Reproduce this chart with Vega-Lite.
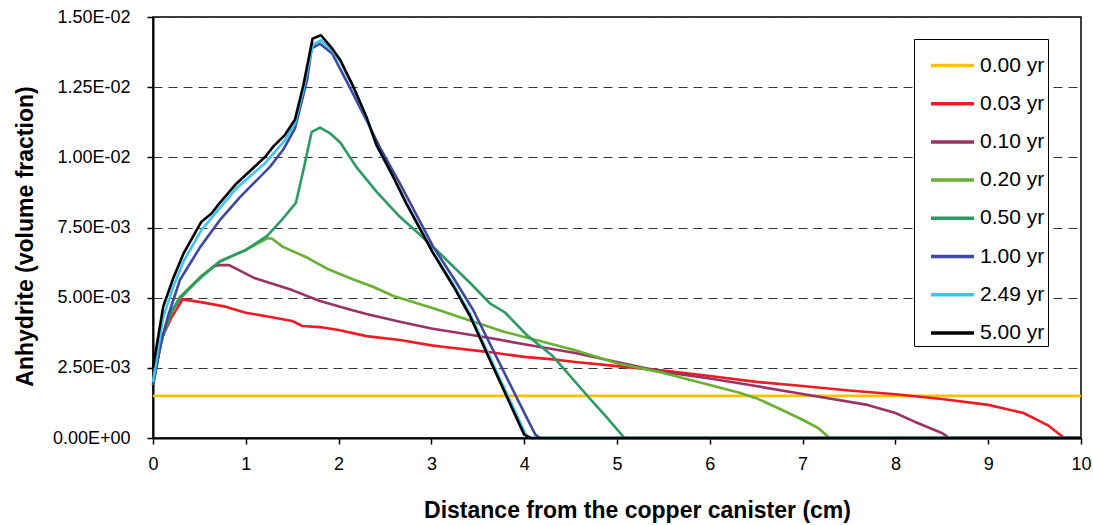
{
  "$schema": "https://vega.github.io/schema/vega-lite/v6.json",
  "width": 928,
  "height": 421,
  "autosize": {"type": "none"},
  "padding": {"left": 153, "top": 17, "right": 12, "bottom": 87},
  "background": "white",
  "config": {
    "view": {"stroke": "#000", "strokeWidth": 1.5},
    "axis": {
      "labelFont": "Liberation Sans",
      "labelFontSize": 18,
      "labelColor": "#000",
      "titleFont": "Liberation Sans",
      "titleFontSize": 23,
      "titleFontWeight": "bold",
      "titleColor": "#000",
      "domainColor": "#000",
      "domainWidth": 2,
      "tickColor": "#000",
      "tickWidth": 1.5,
      "tickSize": 6
    },
    "legend": {
      "labelFont": "Liberation Sans",
      "labelFontSize": 21,
      "labelColor": "#000"
    }
  },
  "data": {
    "values": [
      {"t": "0.00 yr", "x": 0, "y": 0.0015},
      {"t": "0.00 yr", "x": 10, "y": 0.0015},

      {"t": "0.03 yr", "x": 0, "y": 0.0019},
      {"t": "0.03 yr", "x": 0.05, "y": 0.0028},
      {"t": "0.03 yr", "x": 0.1, "y": 0.0036},
      {"t": "0.03 yr", "x": 0.2, "y": 0.0043},
      {"t": "0.03 yr", "x": 0.32, "y": 0.00494},
      {"t": "0.03 yr", "x": 0.5, "y": 0.00485},
      {"t": "0.03 yr", "x": 0.78, "y": 0.00468},
      {"t": "0.03 yr", "x": 1.0, "y": 0.00446},
      {"t": "0.03 yr", "x": 1.22, "y": 0.00434},
      {"t": "0.03 yr", "x": 1.5, "y": 0.00417},
      {"t": "0.03 yr", "x": 1.61, "y": 0.00399},
      {"t": "0.03 yr", "x": 1.83, "y": 0.00394},
      {"t": "0.03 yr", "x": 2.0, "y": 0.00385},
      {"t": "0.03 yr", "x": 2.3, "y": 0.00363},
      {"t": "0.03 yr", "x": 2.66, "y": 0.00349},
      {"t": "0.03 yr", "x": 3.0, "y": 0.0033},
      {"t": "0.03 yr", "x": 3.12, "y": 0.00325},
      {"t": "0.03 yr", "x": 3.6, "y": 0.00307},
      {"t": "0.03 yr", "x": 4.0, "y": 0.00289},
      {"t": "0.03 yr", "x": 4.31, "y": 0.0028},
      {"t": "0.03 yr", "x": 4.55, "y": 0.00271},
      {"t": "0.03 yr", "x": 5.0, "y": 0.00256},
      {"t": "0.03 yr", "x": 5.5, "y": 0.0024},
      {"t": "0.03 yr", "x": 6.0, "y": 0.00221},
      {"t": "0.03 yr", "x": 6.5, "y": 0.002},
      {"t": "0.03 yr", "x": 7.0, "y": 0.00185},
      {"t": "0.03 yr", "x": 7.5, "y": 0.00169},
      {"t": "0.03 yr", "x": 8.0, "y": 0.00156},
      {"t": "0.03 yr", "x": 8.5, "y": 0.00139},
      {"t": "0.03 yr", "x": 9.0, "y": 0.00118},
      {"t": "0.03 yr", "x": 9.38, "y": 0.00089},
      {"t": "0.03 yr", "x": 9.65, "y": 0.00044},
      {"t": "0.03 yr", "x": 9.82, "y": 0},
      {"t": "0.03 yr", "x": 10, "y": 0},

      {"t": "0.10 yr", "x": 0, "y": 0.0019},
      {"t": "0.10 yr", "x": 0.05, "y": 0.0028},
      {"t": "0.10 yr", "x": 0.1, "y": 0.0036},
      {"t": "0.10 yr", "x": 0.2, "y": 0.0045},
      {"t": "0.10 yr", "x": 0.3, "y": 0.005},
      {"t": "0.10 yr", "x": 0.5, "y": 0.0057},
      {"t": "0.10 yr", "x": 0.65, "y": 0.0061},
      {"t": "0.10 yr", "x": 0.71, "y": 0.00616},
      {"t": "0.10 yr", "x": 0.82, "y": 0.00616},
      {"t": "0.10 yr", "x": 1.1, "y": 0.00569},
      {"t": "0.10 yr", "x": 1.5, "y": 0.00527},
      {"t": "0.10 yr", "x": 1.79, "y": 0.00489},
      {"t": "0.10 yr", "x": 2.12, "y": 0.00458},
      {"t": "0.10 yr", "x": 2.3, "y": 0.00442},
      {"t": "0.10 yr", "x": 2.66, "y": 0.00414},
      {"t": "0.10 yr", "x": 3.0, "y": 0.0039},
      {"t": "0.10 yr", "x": 3.6, "y": 0.00358},
      {"t": "0.10 yr", "x": 4.0, "y": 0.00334},
      {"t": "0.10 yr", "x": 4.55, "y": 0.00303},
      {"t": "0.10 yr", "x": 5.0, "y": 0.00271},
      {"t": "0.10 yr", "x": 5.5, "y": 0.00235},
      {"t": "0.10 yr", "x": 6.0, "y": 0.00212},
      {"t": "0.10 yr", "x": 6.5, "y": 0.00185},
      {"t": "0.10 yr", "x": 7.0, "y": 0.00157},
      {"t": "0.10 yr", "x": 7.7, "y": 0.00118},
      {"t": "0.10 yr", "x": 8.0, "y": 0.00089},
      {"t": "0.10 yr", "x": 8.2, "y": 0.00059},
      {"t": "0.10 yr", "x": 8.5, "y": 0.00018},
      {"t": "0.10 yr", "x": 8.58, "y": 0},
      {"t": "0.10 yr", "x": 10, "y": 0},

      {"t": "0.20 yr", "x": 0, "y": 0.0019},
      {"t": "0.20 yr", "x": 0.05, "y": 0.0028},
      {"t": "0.20 yr", "x": 0.1, "y": 0.0036},
      {"t": "0.20 yr", "x": 0.2, "y": 0.0045},
      {"t": "0.20 yr", "x": 0.29, "y": 0.00503},
      {"t": "0.20 yr", "x": 0.51, "y": 0.00574},
      {"t": "0.20 yr", "x": 0.72, "y": 0.00628},
      {"t": "0.20 yr", "x": 1.0, "y": 0.0067},
      {"t": "0.20 yr", "x": 1.23, "y": 0.00711},
      {"t": "0.20 yr", "x": 1.28, "y": 0.00711},
      {"t": "0.20 yr", "x": 1.4, "y": 0.00681},
      {"t": "0.20 yr", "x": 1.66, "y": 0.00643},
      {"t": "0.20 yr", "x": 1.87, "y": 0.00604},
      {"t": "0.20 yr", "x": 2.16, "y": 0.00565},
      {"t": "0.20 yr", "x": 2.37, "y": 0.00539},
      {"t": "0.20 yr", "x": 2.59, "y": 0.00506},
      {"t": "0.20 yr", "x": 3.02, "y": 0.00462},
      {"t": "0.20 yr", "x": 3.35, "y": 0.00426},
      {"t": "0.20 yr", "x": 3.79, "y": 0.00378},
      {"t": "0.20 yr", "x": 4.17, "y": 0.00346},
      {"t": "0.20 yr", "x": 4.55, "y": 0.00313},
      {"t": "0.20 yr", "x": 5.0, "y": 0.00266},
      {"t": "0.20 yr", "x": 5.5, "y": 0.00232},
      {"t": "0.20 yr", "x": 6.0, "y": 0.00189},
      {"t": "0.20 yr", "x": 6.31, "y": 0.00162},
      {"t": "0.20 yr", "x": 6.5, "y": 0.00142},
      {"t": "0.20 yr", "x": 6.74, "y": 0.00106},
      {"t": "0.20 yr", "x": 7.0, "y": 0.00065},
      {"t": "0.20 yr", "x": 7.17, "y": 0.00035},
      {"t": "0.20 yr", "x": 7.29, "y": 0},
      {"t": "0.20 yr", "x": 10, "y": 0},

      {"t": "0.50 yr", "x": 0, "y": 0.0019},
      {"t": "0.50 yr", "x": 0.05, "y": 0.0028},
      {"t": "0.50 yr", "x": 0.1, "y": 0.0036},
      {"t": "0.50 yr", "x": 0.2, "y": 0.0045},
      {"t": "0.50 yr", "x": 0.29, "y": 0.005},
      {"t": "0.50 yr", "x": 0.51, "y": 0.0057},
      {"t": "0.50 yr", "x": 0.72, "y": 0.0063},
      {"t": "0.50 yr", "x": 1.0, "y": 0.0067},
      {"t": "0.50 yr", "x": 1.23, "y": 0.0072},
      {"t": "0.50 yr", "x": 1.4, "y": 0.00782},
      {"t": "0.50 yr", "x": 1.54, "y": 0.00838},
      {"t": "0.50 yr", "x": 1.62, "y": 0.00954},
      {"t": "0.50 yr", "x": 1.71, "y": 0.01091},
      {"t": "0.50 yr", "x": 1.8, "y": 0.01106},
      {"t": "0.50 yr", "x": 1.91, "y": 0.01085},
      {"t": "0.50 yr", "x": 2.02, "y": 0.01052},
      {"t": "0.50 yr", "x": 2.19, "y": 0.00966},
      {"t": "0.50 yr", "x": 2.41, "y": 0.00877},
      {"t": "0.50 yr", "x": 2.66, "y": 0.00788},
      {"t": "0.50 yr", "x": 2.88, "y": 0.00723},
      {"t": "0.50 yr", "x": 3.09, "y": 0.00658},
      {"t": "0.50 yr", "x": 3.31, "y": 0.00587},
      {"t": "0.50 yr", "x": 3.41, "y": 0.00555},
      {"t": "0.50 yr", "x": 3.63, "y": 0.0048},
      {"t": "0.50 yr", "x": 3.79, "y": 0.00448},
      {"t": "0.50 yr", "x": 4.03, "y": 0.00366},
      {"t": "0.50 yr", "x": 4.31, "y": 0.00291},
      {"t": "0.50 yr", "x": 4.69, "y": 0.00147},
      {"t": "0.50 yr", "x": 4.88, "y": 0.00077},
      {"t": "0.50 yr", "x": 5.08, "y": 0},
      {"t": "0.50 yr", "x": 10, "y": 0},

      {"t": "1.00 yr", "x": 0, "y": 0.0019},
      {"t": "1.00 yr", "x": 0.08, "y": 0.0033},
      {"t": "1.00 yr", "x": 0.16, "y": 0.00432},
      {"t": "1.00 yr", "x": 0.29, "y": 0.00563},
      {"t": "1.00 yr", "x": 0.51, "y": 0.00681},
      {"t": "1.00 yr", "x": 0.72, "y": 0.00776},
      {"t": "1.00 yr", "x": 0.94, "y": 0.00859},
      {"t": "1.00 yr", "x": 1.26, "y": 0.00966},
      {"t": "1.00 yr", "x": 1.4, "y": 0.01026},
      {"t": "1.00 yr", "x": 1.53, "y": 0.01103},
      {"t": "1.00 yr", "x": 1.66, "y": 0.01275},
      {"t": "1.00 yr", "x": 1.71, "y": 0.01388},
      {"t": "1.00 yr", "x": 1.8, "y": 0.01405},
      {"t": "1.00 yr", "x": 1.93, "y": 0.0137},
      {"t": "1.00 yr", "x": 2.08, "y": 0.01275},
      {"t": "1.00 yr", "x": 2.3, "y": 0.01132},
      {"t": "1.00 yr", "x": 2.45, "y": 0.01032},
      {"t": "1.00 yr", "x": 2.66, "y": 0.00907},
      {"t": "1.00 yr", "x": 3.02, "y": 0.00681},
      {"t": "1.00 yr", "x": 3.24, "y": 0.00569},
      {"t": "1.00 yr", "x": 3.45, "y": 0.00456},
      {"t": "1.00 yr", "x": 3.75, "y": 0.00256},
      {"t": "1.00 yr", "x": 4.02, "y": 0.00077},
      {"t": "1.00 yr", "x": 4.12, "y": 0.00012},
      {"t": "1.00 yr", "x": 4.17, "y": 0},
      {"t": "1.00 yr", "x": 10, "y": 0},

      {"t": "2.49 yr", "x": 0, "y": 0.002},
      {"t": "2.49 yr", "x": 0.11, "y": 0.0043},
      {"t": "2.49 yr", "x": 0.22, "y": 0.0054},
      {"t": "2.49 yr", "x": 0.33, "y": 0.0063},
      {"t": "2.49 yr", "x": 0.52, "y": 0.0074},
      {"t": "2.49 yr", "x": 0.72, "y": 0.0082},
      {"t": "2.49 yr", "x": 0.9, "y": 0.0089},
      {"t": "2.49 yr", "x": 1.21, "y": 0.0098},
      {"t": "2.49 yr", "x": 1.42, "y": 0.0106},
      {"t": "2.49 yr", "x": 1.53, "y": 0.0112},
      {"t": "2.49 yr", "x": 1.62, "y": 0.0124},
      {"t": "2.49 yr", "x": 1.72, "y": 0.014},
      {"t": "2.49 yr", "x": 1.81, "y": 0.01418},
      {"t": "2.49 yr", "x": 1.93, "y": 0.0138},
      {"t": "2.49 yr", "x": 2.02, "y": 0.0134},
      {"t": "2.49 yr", "x": 2.16, "y": 0.01248},
      {"t": "2.49 yr", "x": 2.3, "y": 0.0114},
      {"t": "2.49 yr", "x": 2.41, "y": 0.0104},
      {"t": "2.49 yr", "x": 2.59, "y": 0.00928},
      {"t": "2.49 yr", "x": 2.73, "y": 0.00834},
      {"t": "2.49 yr", "x": 3.02, "y": 0.0066},
      {"t": "2.49 yr", "x": 3.24, "y": 0.00545},
      {"t": "2.49 yr", "x": 3.42, "y": 0.0044},
      {"t": "2.49 yr", "x": 3.6, "y": 0.0031},
      {"t": "2.49 yr", "x": 4.02, "y": 0.0001},
      {"t": "2.49 yr", "x": 4.07, "y": 0},
      {"t": "2.49 yr", "x": 10, "y": 0},

      {"t": "5.00 yr", "x": 0, "y": 0.0025},
      {"t": "5.00 yr", "x": 0.11, "y": 0.00468},
      {"t": "5.00 yr", "x": 0.22, "y": 0.00571},
      {"t": "5.00 yr", "x": 0.33, "y": 0.00658},
      {"t": "5.00 yr", "x": 0.52, "y": 0.0077},
      {"t": "5.00 yr", "x": 0.63, "y": 0.008},
      {"t": "5.00 yr", "x": 0.72, "y": 0.00838},
      {"t": "5.00 yr", "x": 0.9, "y": 0.00907},
      {"t": "5.00 yr", "x": 1.21, "y": 0.01002},
      {"t": "5.00 yr", "x": 1.3, "y": 0.0104},
      {"t": "5.00 yr", "x": 1.42, "y": 0.01079},
      {"t": "5.00 yr", "x": 1.53, "y": 0.01135},
      {"t": "5.00 yr", "x": 1.62, "y": 0.01257},
      {"t": "5.00 yr", "x": 1.72, "y": 0.01423},
      {"t": "5.00 yr", "x": 1.81, "y": 0.01435},
      {"t": "5.00 yr", "x": 1.93, "y": 0.01388},
      {"t": "5.00 yr", "x": 2.02, "y": 0.01346},
      {"t": "5.00 yr", "x": 2.16, "y": 0.01251},
      {"t": "5.00 yr", "x": 2.3, "y": 0.01144},
      {"t": "5.00 yr", "x": 2.41, "y": 0.01043},
      {"t": "5.00 yr", "x": 2.59, "y": 0.0093},
      {"t": "5.00 yr", "x": 2.73, "y": 0.00836},
      {"t": "5.00 yr", "x": 3.02, "y": 0.00658},
      {"t": "5.00 yr", "x": 3.24, "y": 0.00539},
      {"t": "5.00 yr", "x": 3.42, "y": 0.00432},
      {"t": "5.00 yr", "x": 3.6, "y": 0.003},
      {"t": "5.00 yr", "x": 4.0, "y": 0.00012},
      {"t": "5.00 yr", "x": 4.07, "y": 0},
      {"t": "5.00 yr", "x": 10, "y": 0}
    ]
  },
  "mark": {"type": "line", "strokeWidth": 2.6, "strokeJoin": "round"},
  "encoding": {
    "x": {
      "field": "x",
      "type": "quantitative",
      "scale": {"domain": [0, 10], "nice": false},
      "axis": {
        "values": [0, 1, 2, 3, 4, 5, 6, 7, 8, 9, 10],
        "format": "d",
        "grid": false,
        "labelPadding": 11,
        "labelFlush": false,
        "title": "Distance from the copper canister (cm)",
        "titleX": 484,
        "titleY": 72,
        "titleBaseline": "middle",
        "titleAnchor": "middle"
      }
    },
    "y": {
      "field": "y",
      "type": "quantitative",
      "scale": {"domain": [0, 0.015], "nice": false},
      "axis": {
        "values": [0, 0.0025, 0.005, 0.0075, 0.01, 0.0125, 0.015],
        "labelExpr": "datum.value == 0 ? '0.00E+00' : replace(format(datum.value, '.2e'), 'e-', 'E-0')",
        "grid": true,
        "gridColor": "#333",
        "gridDash": [9, 6],
        "gridWidth": 1,
        "labelPadding": 17,
        "labelFlush": false,
        "title": "Anhydrite (volume fraction)",
        "titleX": -128,
        "titleY": 219,
        "titleBaseline": "middle",
        "titleAnchor": "middle"
      }
    },
    "color": {
      "field": "t",
      "type": "nominal",
      "scale": {
        "domain": ["0.00 yr", "0.03 yr", "0.10 yr", "0.20 yr", "0.50 yr", "1.00 yr", "2.49 yr", "5.00 yr"],
        "range": ["#FFC000", "#ED1C24", "#993366", "#66B032", "#2A9B63", "#3F48A0", "#3EC4F0", "#000000"]
      },
      "legend": {
        "title": null,
        "orient": "none",
        "legendX": 761,
        "legendY": 22,
        "symbolType": "stroke",
        "symbolSize": 1849,
        "symbolStrokeWidth": 3.5,
        "symbolOffset": 12,
        "labelOffset": 4,
        "labelExpr": "datum.label + '\u00a0\u00a0\u00a0'",
        "rowPadding": 4.2,
        "padding": 3,
        "strokeColor": "#000",
        "fillColor": "#fff",
        "labelFontSize": 21
      }
    }
  }
}
